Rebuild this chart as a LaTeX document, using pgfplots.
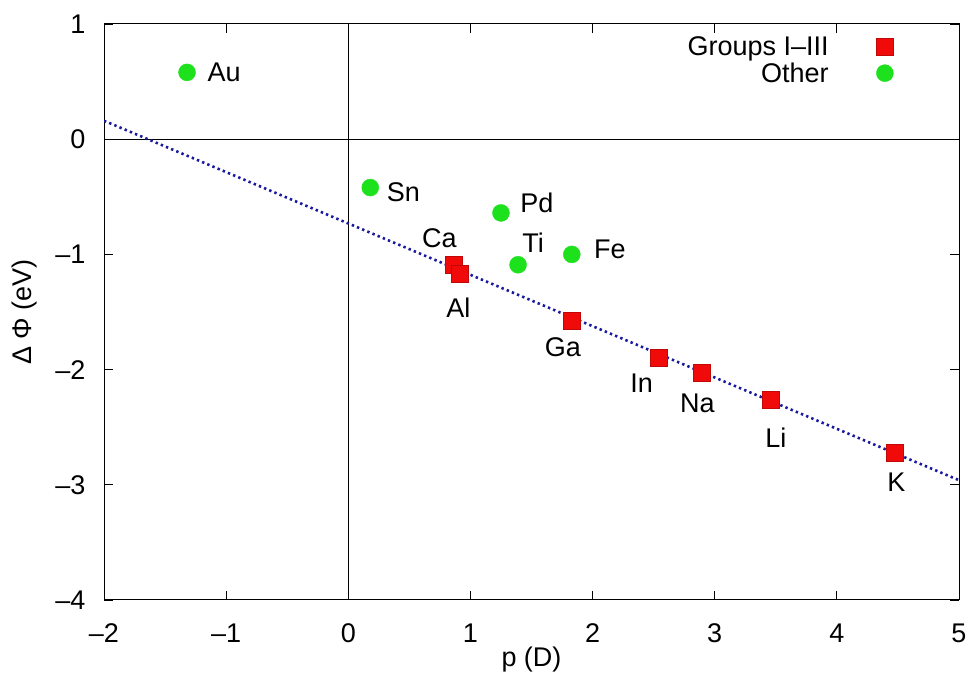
\documentclass[border=0pt]{standalone}
\usepackage{pgfplots}
\pgfplotsset{compat=1.18}
\usepackage{fontspec}
\setmainfont{Liberation Sans}
\definecolor{gred}{RGB}{240,10,10}
\definecolor{ggreen}{RGB}{30,225,30}
\definecolor{gblue}{RGB}{25,25,160}
\begin{document}
\begin{tikzpicture}[x=1pt,y=1pt]
\path[use as bounding box] (0,0) rectangle (974,687);
\begin{axis}[
  at={(104pt,87pt)}, anchor=south west,
  scale only axis, width=855pt, height=576pt,
  xmin=-2, xmax=5, ymin=-4, ymax=1,
  xtick={-2,...,5}, ytick={-4,...,1},
  xticklabels={–2,–1,0,1,2,3,4,5},
  yticklabels={–4,–3,–2,–1,0,1},
  major tick length=9pt,
  tick style={black, line width=0.8pt},
  axis line style={line width=1pt},
  font=\fontsize{27}{32}\selectfont,
  xticklabel style={yshift=-20pt},
  yticklabel style={xshift=-15pt},
  xlabel={p (D)}, ylabel={Δ Φ (eV)},
  xlabel style={at={(axis description cs:0.5,-0.1042)}, anchor=center},
  ylabel style={at={(axis description cs:-0.093,0.5)}, anchor=center},
  legend plot pos=right,
  legend cell align=right,
  legend style={draw=none, fill=none, at={(axis description cs:0.927,0.986)}, anchor=north east, row sep=2pt, font=\fontsize{27}{32}\selectfont},
  legend image code/.code={\path (0pt,0pt); \path[#1] plot coordinates {(54pt,0pt)};},
]
\addplot[forget plot, black, line width=0.8pt] coordinates {(0,-4) (0,1)};
\addplot[forget plot, black, line width=0.8pt] coordinates {(-2,0) (5,0)};
\addplot[only marks, mark=square*, mark size=8.5pt, color=gred, mark options={draw=gred!80!black, line width=0.5pt, fill=gred}]
  coordinates {(0.86,-1.09) (0.91,-1.17) (1.83,-1.58) (2.54,-1.90) (2.89,-2.03) (3.46,-2.26) (4.47,-2.72)};
\addlegendentry{Groups I–III}
\addplot[only marks, mark=*, mark size=8.5pt, color=ggreen, mark options={draw=ggreen, fill=ggreen}]
  coordinates {(-1.32,0.58) (0.18,-0.42) (1.25,-0.64) (1.39,-1.09) (1.83,-1.00)};
\addlegendentry{Other}
\addplot[forget plot, gblue, line width=2.6pt, dash pattern=on 2.4pt off 3.2pt] coordinates {(-2,0.16) (5,-2.96)};
\node at (axis cs:-1.32,0.58) [xshift=37pt, yshift=0pt] {Au};
\node at (axis cs:0.18,-0.42) [xshift=33pt, yshift=-5pt] {Sn};
\node at (axis cs:1.25,-0.64) [xshift=36pt, yshift=10pt] {Pd};
\node at (axis cs:1.39,-1.09) [xshift=15pt, yshift=22pt] {Ti};
\node at (axis cs:1.83,-1.00) [xshift=38pt, yshift=5pt] {Fe};
\node at (axis cs:0.86,-1.09) [xshift=-14pt, yshift=27pt] {Ca};
\node at (axis cs:0.91,-1.17) [xshift=-1pt, yshift=-34pt] {Al};
\node at (axis cs:1.83,-1.58) [xshift=-9pt, yshift=-26pt] {Ga};
\node at (axis cs:2.54,-1.90) [xshift=-17pt, yshift=-25pt] {In};
\node at (axis cs:2.89,-2.03) [xshift=-4pt, yshift=-30pt] {Na};
\node at (axis cs:3.46,-2.26) [xshift=5pt, yshift=-38pt] {Li};
\node at (axis cs:4.47,-2.72) [xshift=2pt, yshift=-30pt] {K};
\end{axis}
\end{tikzpicture}
\end{document}
